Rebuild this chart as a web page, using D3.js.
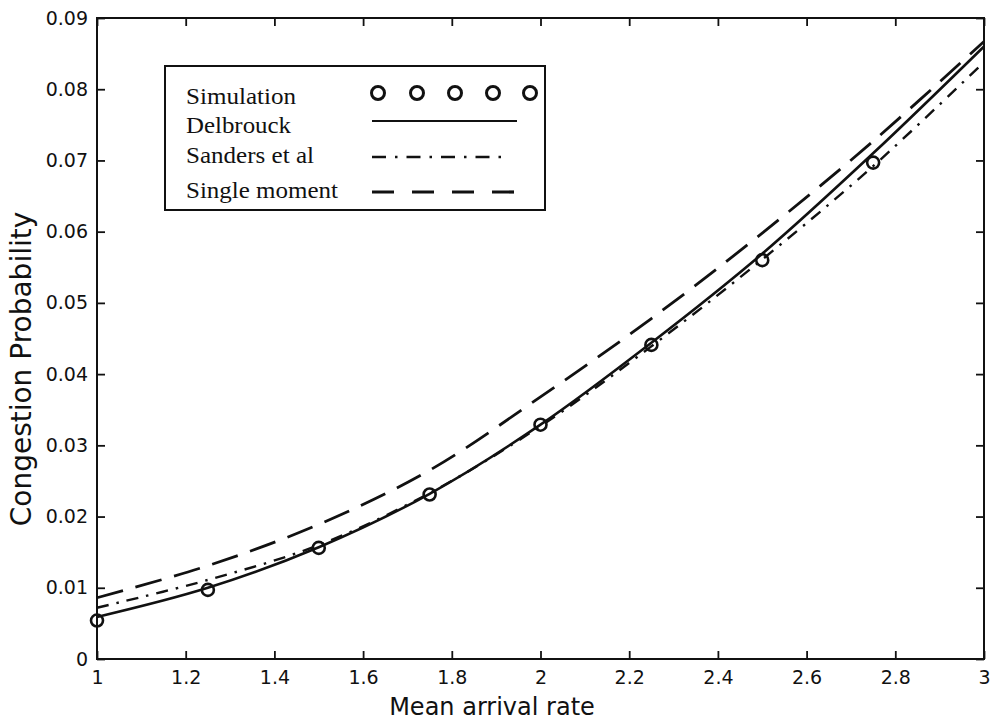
<!DOCTYPE html>
<html>
<head>
<meta charset="utf-8">
<script src="https://cdn.jsdelivr.net/npm/d3@7/dist/d3.min.js"></script>
<style>
  html, body { margin: 0; padding: 0; background: #fff; }
  svg { display: block; }
</style>
</head>
<body>
<svg id="chart" width="991" height="723"></svg>
<script>
// ---- data ----
const xValues = [1, 1.25, 1.5, 1.75, 2, 2.25, 2.5, 2.75, 3];
const simX = [1, 1.25, 1.5, 1.75, 2, 2.25, 2.5, 2.75];
const simulation = [0.0054, 0.0097, 0.0156, 0.0231, 0.0329, 0.0441, 0.0560, 0.0697];
const delbrouck = [0.0059, 0.0100, 0.0157, 0.0232, 0.0329, 0.0444, 0.0569, 0.0710, 0.0860];
const sanders = [0.0072, 0.0111, 0.0160, 0.0233, 0.0327, 0.0439, 0.0561, 0.0692, 0.0838];
const singleMoment = [0.0086, 0.0131, 0.0189, 0.0265, 0.0368, 0.0478, 0.0598, 0.0727, 0.0867];
const xTicks = [1, 1.2, 1.4, 1.6, 1.8, 2, 2.2, 2.4, 2.6, 2.8, 3];
const xTickLabels = ["1", "1.2", "1.4", "1.6", "1.8", "2", "2.2", "2.4", "2.6", "2.8", "3"];
const yTicks = [0, 0.01, 0.02, 0.03, 0.04, 0.05, 0.06, 0.07, 0.08, 0.09];
const yTickLabels = ["0", "0.01", "0.02", "0.03", "0.04", "0.05", "0.06", "0.07", "0.08", "0.09"];
const legendLabels = ["Simulation", "Delbrouck", "Sanders et al", "Single moment"];
const xLabel = "Mean arrival rate";
const yLabel = "Congestion Probability";

// ---- layout ----
const svg = d3.select("#chart");
const L = 97, R = 984, T = 18, B = 659;
const x = d3.scaleLinear().domain([1, 3]).range([L, R]);
const y = d3.scaleLinear().domain([0, 0.09]).range([B, T]);
const tickFont = "'DejaVu Sans', sans-serif";

function styleAxis(g) {
  g.select(".domain").remove();
  g.selectAll(".tick line").attr("stroke", "#111").attr("stroke-width", 1.8);
  g.selectAll(".tick text").attr("fill", "#111").style("font-family", tickFont).style("font-size", "19px");
}

svg.append("g").attr("transform", `translate(0,${B})`)
  .call(d3.axisBottom(x).tickValues(xTicks).tickFormat((d, i) => xTickLabels[i]).tickSizeInner(-8).tickSizeOuter(0).tickPadding(12))
  .call(styleAxis);
svg.append("g").attr("transform", `translate(0,${T})`)
  .call(d3.axisTop(x).tickValues(xTicks).tickFormat("").tickSizeInner(-8).tickSizeOuter(0))
  .call(styleAxis);
svg.append("g").attr("transform", `translate(${L},0)`)
  .call(d3.axisLeft(y).tickValues(yTicks).tickFormat((d, i) => yTickLabels[i]).tickSizeInner(-8).tickSizeOuter(0).tickPadding(9))
  .call(styleAxis);
svg.append("g").attr("transform", `translate(${R},0)`)
  .call(d3.axisRight(y).tickValues(yTicks).tickFormat("").tickSizeInner(-8).tickSizeOuter(0))
  .call(styleAxis);

// frame
svg.append("rect").attr("x", L).attr("y", T).attr("width", R - L).attr("height", B - T)
  .attr("fill", "none").attr("stroke", "#111").attr("stroke-width", 2);

// ---- lines ----
const line = d3.line().x(d => x(d[0])).y(d => y(d[1])).curve(d3.curveCatmullRom.alpha(0.5));
const plot = svg.append("g");
function drawSeries(vals, dash, w) {
  plot.append("path").datum(xValues.map((xv, i) => [xv, vals[i]]))
    .attr("d", line).attr("fill", "none").attr("stroke", "#111")
    .attr("stroke-width", w).attr("stroke-dasharray", dash);
}
drawSeries(singleMoment, "27,13", 2.8);
drawSeries(sanders, "12,8,2.5,8", 2.4);
drawSeries(delbrouck, null, 2.6);

plot.selectAll("circle.sim").data(simX.map((xv, i) => [xv, simulation[i]]))
  .enter().append("circle").attr("class", "sim")
  .attr("cx", d => x(d[0])).attr("cy", d => y(d[1])).attr("r", 6)
  .attr("fill", "none").attr("stroke", "#111").attr("stroke-width", 2.6);

// ---- legend ----
const lg = svg.append("g");
lg.append("rect").attr("x", 165).attr("y", 66).attr("width", 380).attr("height", 144)
  .attr("fill", "#fff").attr("stroke", "#111").attr("stroke-width", 2);
const legendBase = [104, 133, 163, 198];
const legendWidths = [110, 105, 128, 152];
legendLabels.forEach((t, i) => {
  lg.append("text").attr("x", 186).attr("y", legendBase[i])
    .attr("textLength", legendWidths[i]).attr("lengthAdjust", "spacingAndGlyphs")
    .style("font-family", "'Liberation Serif', serif").style("font-size", "24px")
    .attr("fill", "#111").text(t);
});
[378, 417, 455, 493, 530].forEach(cx => {
  lg.append("circle").attr("cx", cx).attr("cy", 93).attr("r", 6.5)
    .attr("fill", "none").attr("stroke", "#111").attr("stroke-width", 3);
});
lg.append("line").attr("x1", 372).attr("x2", 517).attr("y1", 121).attr("y2", 121)
  .attr("stroke", "#111").attr("stroke-width", 2.2);
lg.append("line").attr("x1", 372).attr("x2", 508).attr("y1", 157).attr("y2", 157)
  .attr("stroke", "#111").attr("stroke-width", 2.4).attr("stroke-dasharray", "14,9,2.5,9");
lg.append("line").attr("x1", 372).attr("x2", 517).attr("y1", 192).attr("y2", 192)
  .attr("stroke", "#111").attr("stroke-width", 3.2).attr("stroke-dasharray", "22,18");

// ---- axis labels ----
svg.append("text").attr("x", 492).attr("y", 715).attr("text-anchor", "middle")
  .style("font-family", tickFont).style("font-size", "24px").attr("fill", "#111").text(xLabel);
svg.append("text").attr("transform", "translate(31,369) rotate(-90)").attr("text-anchor", "middle")
  .style("font-family", tickFont).style("font-size", "28px").attr("fill", "#111").text(yLabel);
</script>
</body>
</html>
